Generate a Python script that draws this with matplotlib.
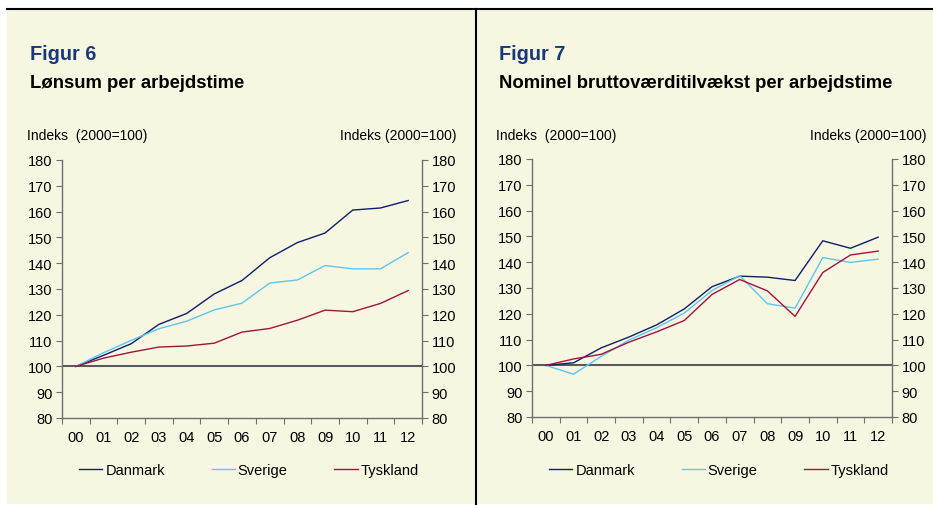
import matplotlib
matplotlib.use("Agg")
import matplotlib.pyplot as plt
from matplotlib.lines import Line2D
from matplotlib.patches import Rectangle

plt.rcParams['font.family'] = ['Liberation Sans', 'DejaVu Sans']

years = ["00", "01", "02", "03", "04", "05", "06", "07", "08", "09", "10", "11", "12"]
series_names = ["Danmark", "Sverige", "Tyskland"]

fig6_danmark = [100, 104.3, 108.8, 116.3, 120.5, 128.1, 133.3, 142.1, 148.0, 151.7, 160.6, 161.4, 164.3]
fig6_sverige = [100, 105.3, 110.1, 114.6, 117.5, 121.9, 124.5, 132.3, 133.5, 139.1, 137.8, 137.8, 144.1]
fig6_tyskland = [100, 103.2, 105.5, 107.5, 107.9, 109.0, 113.3, 114.7, 117.9, 121.8, 121.2, 124.4, 129.4]

fig7_danmark = [100, 101.0, 106.8, 111.0, 115.7, 121.9, 130.5, 134.6, 134.2, 132.9, 148.3, 145.4, 149.7]
fig7_sverige = [100, 96.6, 103.5, 109.8, 114.6, 120.3, 129.0, 134.8, 123.9, 122.2, 141.8, 139.9, 141.2]
fig7_tyskland = [100, 102.5, 104.3, 109.0, 113.0, 117.4, 127.5, 133.3, 128.9, 119.0, 136.0, 142.8, 144.3]

yticks = [80, 90, 100, 110, 120, 130, 140, 150, 160, 170, 180]

colors = ["#0B1F6B", "#5CC6EE", "#A3123F"]
BG = "#F7F7E1"
W, H = 933, 506

fig = plt.figure(figsize=(W / 100, H / 100), dpi=100)
fig.patch.set_facecolor("white")

def fx(x):
    return x / W

def fy(y):
    return 1 - y / H

# background panel
bg = Rectangle((fx(7), fy(505)), fx(926), (505 - 10) / H,
               transform=fig.transFigure, facecolor=BG, edgecolor="none", zorder=-10)
fig.patches.append(bg)
fig.lines.append(Line2D([fx(7), 1], [fy(10), fy(10)], transform=fig.transFigure, color="black", lw=1.5))
fig.lines.append(Line2D([fx(476), fx(476)], [fy(10), 0], transform=fig.transFigure, color="black", lw=1.5))

panels = [
    dict(x0=62, top=161, bot=419, fig="Figur 6", title="Lønsum per arbejdstime",
         data=[fig6_danmark, fig6_sverige, fig6_tyskland], tx=30, lab_l=27, lab_r=457),
    dict(x0=532, top=160, bot=418, fig="Figur 7", title="Nominel bruttoværditilvækst per arbejdstime",
         data=[fig7_danmark, fig7_sverige, fig7_tyskland], tx=499, lab_l=496, lab_r=927),
]

spine_col = "#6E6E6E"
for p in panels:
    ax = fig.add_axes([fx(p["x0"]), fy(p["bot"]), fx(360), (p["bot"] - p["top"]) / H])
    ax.set_facecolor("none")
    ax.set_zorder(1)
    xs = list(range(len(years)))
    handles = []
    for name, vals, c in zip(series_names, p["data"], colors):
        h, = ax.plot(xs, vals, color=c, lw=1.0, label=name, zorder=3)
        handles.append(h)
    ax.axhline(100, color="#5A5A5A", lw=1.5, zorder=2)
    ax.set_xlim(-0.5, len(years) - 0.5)
    ax.set_ylim(80, 180)
    ax.set_yticks(yticks)
    ax.set_xticks([i - 0.5 for i in range(len(years) + 1)])
    ax.set_xticklabels([])
    ax.set_xticks(xs, minor=True)
    ax.set_xticklabels(years, minor=True)
    ax.tick_params(axis="x", which="major", direction="out", length=4, color=spine_col)
    ax.tick_params(axis="x", which="minor", length=0, pad=8.5, labelsize=10.5)
    ax.tick_params(axis="y", which="major", direction="out", length=4, color=spine_col,
                   left=True, right=True, labelleft=True, labelright=True, labelsize=10.5, pad=3)
    ax.spines["top"].set_visible(False)
    for s in ["left", "right", "bottom"]:
        ax.spines[s].set_color(spine_col)
        ax.spines[s].set_linewidth(1.0)
    leg = ax.legend(handles=handles, loc="center",
                    bbox_to_anchor=((p["x0"] + 187) / W, fy(471)),
                    bbox_transform=fig.transFigure, ncol=3, frameon=False, fontsize=10.5,
                    handlelength=1.6, handletextpad=0.2, columnspacing=3.2)

    fig.text(fx(p["tx"]), fy(60), p["fig"], fontsize=14.3, fontweight="bold", color="#17397A",
             va="baseline", ha="left")
    fig.text(fx(p["tx"]), fy(88.5), p["title"], fontsize=13.3, fontweight="bold", color="black",
             va="baseline", ha="left")
    fig.text(fx(p["lab_l"]), fy(140), "Indeks  (2000=100)", fontsize=10, va="baseline", ha="left")
    fig.text(fx(p["lab_r"]), fy(140), "Indeks (2000=100)", fontsize=10, va="baseline", ha="right")

fig.savefig("out.png", dpi=100, facecolor="white")
